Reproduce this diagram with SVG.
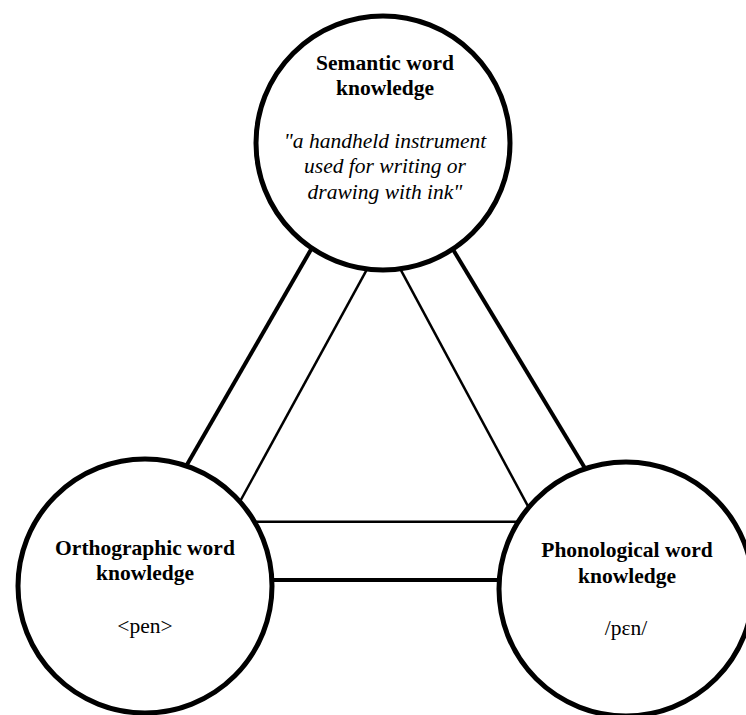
<svg xmlns="http://www.w3.org/2000/svg" width="746" height="715" viewBox="0 0 746 715">
<style>
.node{fill:#fff;stroke:#000;stroke-width:5}
.thick{stroke:#000;stroke-width:4;fill:none}
.thin{stroke:#000;stroke-width:2.5;fill:none}
.t{font-family:"Liberation Serif","Times New Roman",serif;font-size:21.5px;fill:#000;text-anchor:middle}
.b{font-weight:bold}
.i{font-style:italic}
</style>
<rect width="746" height="715" fill="#fff"/>
<g id="connectors">
<line class="thick" x1="320.7" y1="232.7" x2="178" y2="480.3"/>
<line class="thin" x1="370.5" y1="262.9" x2="237" y2="507"/>
<line class="thin" x1="397" y1="262.9" x2="533" y2="515.5"/>
<line class="thick" x1="450" y1="244.5" x2="590" y2="476.5"/>
<line class="thin" x1="245" y1="521.7" x2="530" y2="521.7"/>
<line class="thick" x1="262" y1="580" x2="510" y2="580"/>
</g>
<g id="semantic">
<circle class="node" cx="383" cy="143" r="127"/>
<text class="t b" x="385" y="70">Semantic word</text>
<text class="t b" x="385" y="95">knowledge</text>
<text class="t i" x="385" y="148">"a handheld instrument</text>
<text class="t i" x="385" y="173">used for writing or</text>
<text class="t i" x="385" y="199">drawing with ink"</text>
</g>
<g id="orthographic">
<circle class="node" cx="145" cy="586" r="127"/>
<text class="t b" x="145" y="555">Orthographic word</text>
<text class="t b" x="145" y="580">knowledge</text>
<text class="t" x="145" y="633">&lt;pen&gt;</text>
</g>
<g id="phonological">
<circle class="node" cx="626" cy="589" r="127"/>
<text class="t b" x="627" y="557">Phonological word</text>
<text class="t b" x="627" y="583">knowledge</text>
<text class="t" x="626" y="635">/pɛn/</text>
</g>
</svg>
